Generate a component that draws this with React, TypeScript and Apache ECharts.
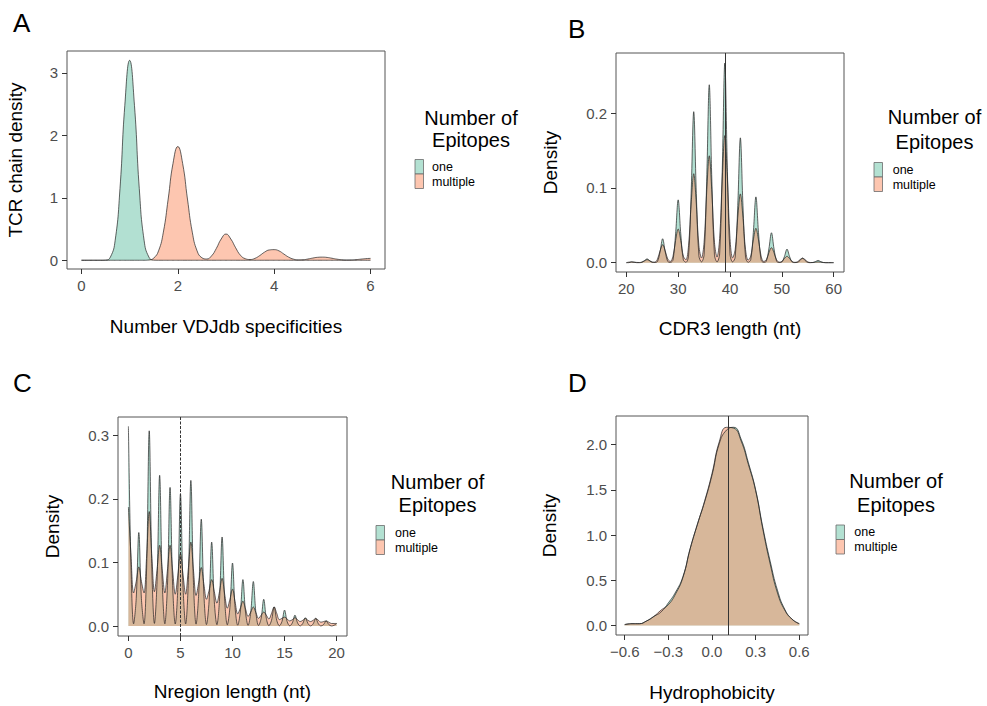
import React, { useEffect, useRef } from 'react';
import * as echarts from 'echarts';

const FONT = "'Liberation Sans', Arial, Helvetica, sans-serif";
const GREEN = '#66C2A5';
const ORANGE = '#FC8D62';
const KEY_GREEN = '#b3e1d2';
const KEY_ORANGE = '#fdc6b0';

const groups = ['one', 'multiple'];
const legendTitleLines = ['Number of', 'Epitopes'];
const panelLetters = ['A', 'B', 'C', 'D'];

// ---------- Panel A: Number VDJdb specificities (x from 0, step 0.1) ----------
const aStart = 0;
const aStep = 0.1;
const aOne = [
  0, 0, 0, 0, 0, 0.002, 0.05, 0.32, 1.15, 2.48, 3.2, 2.48, 1.15, 0.32, 0.05, 0.002,
  0, 0, 0, 0, 0, 0, 0, 0, 0, 0, 0, 0, 0, 0, 0, 0, 0, 0, 0, 0, 0, 0, 0, 0, 0, 0, 0, 0, 0,
  0, 0, 0, 0, 0, 0, 0, 0, 0, 0, 0, 0, 0, 0, 0, 0,
];
const aMultiple = [
  0, 0, 0, 0, 0, 0, 0, 0, 0, 0, 0, 0, 0, 0,
  0.005, 0.035, 0.15, 0.45, 0.98, 1.55, 1.82, 1.55, 0.98, 0.45, 0.15, 0.04, 0.02,
  0.07, 0.19, 0.34, 0.42, 0.34, 0.2, 0.08, 0.025, 0.012, 0.03, 0.075, 0.13, 0.165,
  0.17, 0.15, 0.1, 0.05, 0.018, 0.006, 0.008, 0.02, 0.035, 0.047, 0.05, 0.045, 0.032,
  0.018, 0.008, 0.004, 0.005, 0.01, 0.018, 0.026, 0.03,
];
const aXTicks = [0, 2, 4, 6];
const aYTicks = [0, 1, 2, 3];

// ---------- Panel B: CDR3 length (x from 20, step 0.5) ----------
const bStart = 20;
const bStep = 0.5;
const bOne = [
  0, 0, 0.001, 0.0005, 0, 0,
  0.0005, 0.0025, 0.005, 0.0025, 0.0005, 0.0002,
  0.0015, 0.0145, 0.032, 0.0145, 0.0015, 0.0003,
  0.0037, 0.0385, 0.084, 0.0385, 0.0037, 0.0005,
  0.009, 0.0925, 0.202, 0.0925, 0.009, 0.001,
  0.0105, 0.109, 0.238, 0.109, 0.0105, 0.001,
  0.0117, 0.122, 0.267, 0.122, 0.0117, 0.001,
  0.0073, 0.0765, 0.167, 0.0765, 0.0073, 0.0005,
  0.0039, 0.0403, 0.088, 0.0403, 0.0039, 0.0003,
  0.0018, 0.0183, 0.04, 0.0183, 0.0018, 0.0002,
  0.0008, 0.0082, 0.018, 0.0082, 0.0008, 0.0001,
  0.0003, 0.0028, 0.006, 0.0028, 0.0003, 0,
  0.0002, 0.0014, 0.003, 0.0014, 0.0002, 0,
  0, 0, 0,
];
const bMultiple = [
  0, 0.0007, 0.001, 0.0007, 0.0003, 0.0002,
  0.0008, 0.0026, 0.004, 0.0026, 0.0008, 0.0007,
  0.0046, 0.0158, 0.024, 0.0158, 0.0046, 0.0017,
  0.0086, 0.0297, 0.045, 0.0297, 0.0086, 0.0039,
  0.0226, 0.0785, 0.119, 0.0785, 0.0226, 0.0063,
  0.0272, 0.0944, 0.143, 0.0944, 0.0272, 0.0075,
  0.0323, 0.112, 0.17, 0.112, 0.0323, 0.0063,
  0.0175, 0.0607, 0.092, 0.0607, 0.0175, 0.0033,
  0.0087, 0.0304, 0.046, 0.0304, 0.0087, 0.0016,
  0.0038, 0.0132, 0.02, 0.0132, 0.0038, 0.0007,
  0.0016, 0.0056, 0.0085, 0.0056, 0.0016, 0.0004,
  0.0011, 0.004, 0.006, 0.004, 0.0011, 0.0002,
  0.0002, 0.0007, 0.001, 0.0007, 0.0002, 0,
  0, 0, 0,
];
const bXTicks = [20, 30, 40, 50, 60];
const bYTicks = [0, 0.1, 0.2];
const bVline = 39;

// ---------- Panel C: Nregion length (x from 0, step 0.25) ----------
const cStart = 0;
const cStep = 0.25;
const cOne = [
  0.314, 0.093, 0.0035, 0.043,
  0.147, 0.043, 0.0035, 0.091,
  0.307, 0.091, 0.0041, 0.07,
  0.237, 0.07, 0.0035, 0.064,
  0.218, 0.064, 0.0032, 0.061,
  0.208, 0.061, 0.0033, 0.068,
  0.229, 0.068, 0.003, 0.05,
  0.168, 0.05, 0.0023, 0.039,
  0.132, 0.039, 0.0021, 0.041,
  0.14, 0.041, 0.0018, 0.029,
  0.099, 0.029, 0.0013, 0.022,
  0.073, 0.022, 0.0011, 0.021,
  0.07, 0.021, 0.0008, 0.012,
  0.042, 0.012, 0.0005, 0.009,
  0.03, 0.009, 0.0004, 0.007,
  0.025, 0.007, 0.0003, 0.005,
  0.017, 0.005, 0.0002, 0.004,
  0.013, 0.004, 0.0002, 0.0035,
  0.012, 0.0035, 0.0001, 0.0024,
  0.008, 0.0024, 0.0001, 0.0012,
  0.004,
];
const cMultiple = [
  0.187, 0.11, 0.052, 0.07,
  0.093, 0.07, 0.052, 0.11,
  0.18, 0.11, 0.054, 0.088,
  0.127, 0.088, 0.052, 0.088,
  0.127, 0.087, 0.05, 0.08,
  0.114, 0.08, 0.05, 0.089,
  0.132, 0.088, 0.048, 0.068,
  0.092, 0.066, 0.042, 0.056,
  0.073, 0.054, 0.036, 0.054,
  0.075, 0.05, 0.028, 0.042,
  0.058, 0.038, 0.019, 0.028,
  0.039, 0.027, 0.015, 0.022,
  0.03, 0.021, 0.012, 0.017,
  0.022, 0.017, 0.011, 0.02,
  0.03, 0.02, 0.01, 0.012,
  0.014, 0.011, 0.008, 0.01,
  0.013, 0.01, 0.007, 0.009,
  0.012, 0.009, 0.007, 0.009,
  0.012, 0.009, 0.006, 0.007,
  0.008, 0.006, 0.004, 0.004,
  0.004,
];
const cXTicks = [0, 5, 10, 15, 20];
const cYTicks = [0, 0.1, 0.2, 0.3];
const cVline = 5;

// ---------- Panel D: Hydrophobicity (x from -0.6, step 0.05) ----------
const dStart = -0.6;
const dStep = 0.05;
const dOne = [
  0.01, 0.02, 0.02, 0.05, 0.1, 0.15, 0.25, 0.37, 0.54, 0.85, 1.12, 1.37, 1.66,
  2.01, 2.16, 2.19, 2.06, 1.8, 1.5, 1.08, 0.71, 0.39, 0.18, 0.07, 0.02,
];
const dMultiple = [
  0.01, 0.02, 0.02, 0.05, 0.1, 0.17, 0.23, 0.35, 0.53, 0.85, 1.12, 1.38, 1.68,
  2.03, 2.19, 2.18, 2.04, 1.78, 1.49, 1.06, 0.68, 0.36, 0.17, 0.07, 0.02,
];
const dXTicks = [-0.6, -0.3, 0, 0.3, 0.6];
const dYTicks = [0, 0.5, 1, 1.5, 2];
const dVline = 0.11;

const toPairs = (start: number, step: number, ys: number[]) =>
  ys.map((y, i) => [+(start + i * step).toFixed(4), y]);

const fmtInt = (v: number) => String(Math.round(v));
const fmt1 = (v: number) => (v < 0 ? '\u2212' : '') + Math.abs(v).toFixed(1);

type Panel = {
  grid: { left: number; top: number; width: number; height: number };
  x: [number, number];
  y: [number, number];
  xTicks: number[];
  yTicks: number[];
  xFmt: (v: number) => string;
  yFmt: (v: number) => string;
  xName: string;
  yName: string;
  xGap: number;
  yGap: number;
  one: number[][];
  multiple: number[][];
  smooth: number;
  vline: number | null;
  vlineType: any;
  letter: { x: number; y: number };
  legend: { tx: number; ty1: number; ty2: number; kx: number; ky: number; lx: number };
};

const KEY_W = 8.5;
const KEY_H = 14.5;
const LABEL_PITCH = 15;

const panels: Panel[] = [
  {
    grid: { left: 67, top: 51, width: 318, height: 218 },
    x: [-0.3, 6.3], y: [-0.14, 3.35],
    xTicks: aXTicks, yTicks: aYTicks, xFmt: fmtInt, yFmt: fmtInt,
    xName: 'Number VDJdb specificities', yName: 'TCR chain density', xGap: 57, yGap: 52,
    one: toPairs(aStart, aStep, aOne), multiple: toPairs(aStart, aStep, aMultiple),
    smooth: 0.5, vline: null, vlineType: 'solid',
    letter: { x: 13, y: 22.5 },
    legend: { tx: 471, ty1: 117.5, ty2: 139.5, kx: 415, ky: 159.5, lx: 432 },
  },
  {
    grid: { left: 616, top: 53, width: 228, height: 219 },
    x: [18, 62], y: [-0.0125, 0.2805],
    xTicks: bXTicks, yTicks: bYTicks, xFmt: fmtInt, yFmt: fmt1,
    xName: 'CDR3 length (nt)', yName: 'Density', xGap: 56, yGap: 66,
    one: toPairs(bStart, bStep, bOne), multiple: toPairs(bStart, bStep, bMultiple),
    smooth: 0.35, vline: bVline, vlineType: 'solid',
    letter: { x: 568, y: 29 },
    legend: { tx: 934.5, ty1: 116.5, ty2: 141.5, kx: 874, ky: 162.5, lx: 892.7 },
  },
  {
    grid: { left: 118, top: 417, width: 229, height: 219 },
    x: [-1, 21], y: [-0.0157, 0.3287],
    xTicks: cXTicks, yTicks: cYTicks, xFmt: fmtInt, yFmt: fmt1,
    xName: 'Nregion length (nt)', yName: 'Density', xGap: 55, yGap: 66,
    one: toPairs(cStart, cStep, cOne), multiple: toPairs(cStart, cStep, cMultiple),
    smooth: 0.35, vline: cVline, vlineType: [3, 1.5],
    letter: { x: 13, y: 383 },
    legend: { tx: 437.5, ty1: 481.5, ty2: 505, kx: 376, ky: 525.5, lx: 395 },
  },
  {
    grid: { left: 616, top: 416, width: 192, height: 219 },
    x: [-0.66, 0.66], y: [-0.105, 2.315],
    xTicks: dXTicks, yTicks: dYTicks, xFmt: fmt1, yFmt: fmt1,
    xName: 'Hydrophobicity', yName: 'Density', xGap: 57, yGap: 66.5,
    one: toPairs(dStart, dStep, dOne), multiple: toPairs(dStart, dStep, dMultiple),
    smooth: 0.5, vline: dVline, vlineType: 'solid',
    letter: { x: 568, y: 383 },
    legend: { tx: 896, ty1: 481, ty2: 505, kx: 836, ky: 525, lx: 854.3 },
  },
];

function buildOption(): any {
  const tickLabel = { color: '#4d4d4d', fontSize: 15, fontFamily: FONT };
  const nameStyle = { color: '#000', fontSize: 19, fontFamily: FONT, verticalAlign: 'middle' };

  const grid = panels.map((p) => ({
    ...p.grid,
    show: true,
    borderColor: '#555',
    borderWidth: 1,
    backgroundColor: 'transparent',
    containLabel: false,
    outerBoundsMode: 'none',
  }));

  const xAxis = panels.map((p, i) => ({
    type: 'value',
    gridIndex: i,
    position: 'bottom',
    min: p.x[0],
    max: p.x[1],
    axisLine: { show: false, onZero: false },
    splitLine: { show: false },
    axisTick: { show: true, inside: false, customValues: p.xTicks, length: 5, lineStyle: { color: '#333', width: 1 } },
    axisLabel: { ...tickLabel, customValues: p.xTicks, margin: 9, formatter: (v: number) => p.xFmt(v) },
    name: p.xName,
    nameLocation: 'middle',
    nameGap: p.xGap,
    nameTextStyle: nameStyle,
  }));

  const yAxis = panels.map((p, i) => ({
    type: 'value',
    gridIndex: i,
    position: 'left',
    min: p.y[0],
    max: p.y[1],
    axisLine: { show: false, onZero: false },
    splitLine: { show: false },
    axisTick: { show: true, inside: false, customValues: p.yTicks, length: 5, lineStyle: { color: '#333', width: 1 } },
    axisLabel: { ...tickLabel, customValues: p.yTicks, margin: 9, formatter: (v: number) => p.yFmt(v) },
    name: p.yName,
    nameLocation: 'middle',
    nameGap: p.yGap,
    nameRotate: 90,
    nameTextStyle: nameStyle,
  }));

  const series: any[] = [];
  panels.forEach((p, i) => {
    series.push({
      type: 'line',
      name: groups[0],
      xAxisIndex: i,
      yAxisIndex: i,
      data: p.one,
      showSymbol: false,
      symbol: 'none',
      smooth: p.smooth,
      silent: true,
      lineStyle: { color: '#222', width: 0.7 },
      itemStyle: { color: GREEN },
      areaStyle: { color: GREEN, opacity: 0.5 },
    });
    const s: any = {
      type: 'line',
      name: groups[1],
      xAxisIndex: i,
      yAxisIndex: i,
      data: p.multiple,
      showSymbol: false,
      symbol: 'none',
      smooth: p.smooth,
      silent: true,
      lineStyle: { color: '#222', width: 0.7 },
      itemStyle: { color: ORANGE },
      areaStyle: { color: ORANGE, opacity: 0.5 },
    };
    if (p.vline !== null) {
      s.markLine = {
        silent: true,
        symbol: ['none', 'none'],
        label: { show: false },
        lineStyle: { color: '#333', width: 1, type: p.vlineType },
        data: [{ xAxis: p.vline }],
      };
    }
    series.push(s);
  });

  const graphic: any[] = [];
  panels.forEach((p, i) => {
    const L = p.legend;
    graphic.push({
      type: 'text',
      style: { text: panelLetters[i], x: p.letter.x, y: p.letter.y, fontSize: 26, fontFamily: FONT, fill: '#000', verticalAlign: 'middle', align: 'left' },
    });
    graphic.push({
      type: 'text',
      style: { text: legendTitleLines[0], x: L.tx, y: L.ty1, fontSize: 20, lineHeight: 21, fontFamily: FONT, fill: '#000', verticalAlign: 'middle', align: 'center' },
    });
    graphic.push({
      type: 'text',
      style: { text: legendTitleLines[1], x: L.tx, y: L.ty2, fontSize: 20, lineHeight: 21, fontFamily: FONT, fill: '#000', verticalAlign: 'middle', align: 'center' },
    });
    const keyFills = [KEY_GREEN, KEY_ORANGE];
    groups.forEach((g, k) => {
      graphic.push({
        type: 'rect',
        shape: { x: L.kx, y: L.ky + k * KEY_H, width: KEY_W, height: KEY_H },
        style: { fill: keyFills[k], stroke: '#6b6b6b', lineWidth: 0.8 },
      });
      graphic.push({
        type: 'text',
        style: {
          text: g,
          x: L.lx,
          y: L.ky + KEY_H / 2 + k * LABEL_PITCH,
          fontSize: 12.5,
          lineHeight: 13,
          fontFamily: FONT,
          fill: '#000',
          verticalAlign: 'middle',
          align: 'left',
        },
      });
    });
  });

  return {
    animation: false,
    backgroundColor: '#fff',
    textStyle: { fontFamily: FONT },
    grid,
    xAxis,
    yAxis,
    series,
    graphic,
  };
}

export default function App() {
  const ref = useRef<HTMLDivElement>(null);
  useEffect(() => {
    if (!ref.current) return;
    const chart = echarts.init(ref.current, null, { renderer: 'svg' });
    chart.setOption(buildOption());
    return () => {
      chart.dispose();
    };
  }, []);
  return (
    <div
      ref={ref}
      style={{ position: 'fixed', left: 0, top: 0, width: 987, height: 706, background: '#fff' }}
    />
  );
}
